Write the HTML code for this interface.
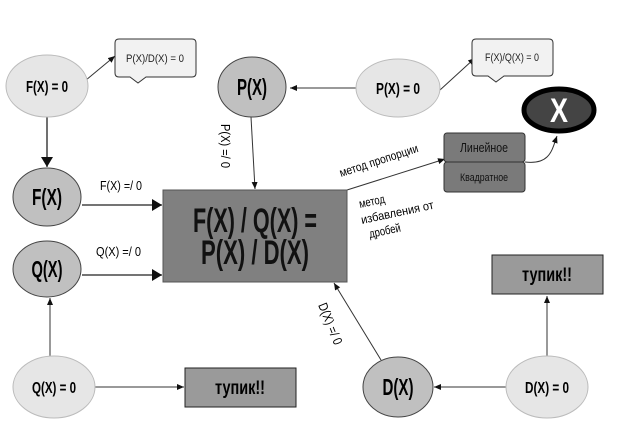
<!DOCTYPE html>
<html><head><meta charset="utf-8"><style>
html,body{margin:0;padding:0;background:#fff;}
svg{display:block;}
text{font-family:"Liberation Sans","DejaVu Sans",sans-serif;}
</style></head><body>
<svg width="640" height="437" viewBox="0 0 640 437" xmlns="http://www.w3.org/2000/svg">
<defs>
<marker id="a" markerWidth="8" markerHeight="8" refX="7" refY="4" orient="auto" markerUnits="userSpaceOnUse"><path d="M0,1 L7,4 L0,7 z" fill="#111"/></marker>
<marker id="b" markerWidth="12" markerHeight="12" refX="10" refY="6" orient="auto" markerUnits="userSpaceOnUse"><path d="M0,0 L10,6 L0,12 z" fill="#111"/></marker>
</defs>
<rect width="640" height="437" fill="#fff"/>

<line x1="47" y1="117" x2="47" y2="167" stroke="#222" stroke-width="1.3" marker-end="url(#b)"/>
<line x1="82" y1="205" x2="162" y2="205" stroke="#222" stroke-width="1.3" marker-end="url(#b)"/>
<line x1="82" y1="275" x2="162" y2="275" stroke="#222" stroke-width="1.3" marker-end="url(#b)"/>
<line x1="50" y1="356" x2="50" y2="298" stroke="#333" stroke-width="1" marker-end="url(#a)"/>
<line x1="95" y1="387" x2="184" y2="387" stroke="#333" stroke-width="1" marker-end="url(#a)"/>
<line x1="251" y1="117" x2="255" y2="189" stroke="#333" stroke-width="1" marker-end="url(#a)"/>
<line x1="356" y1="88" x2="290" y2="88" stroke="#333" stroke-width="1" marker-end="url(#a)"/>
<line x1="440" y1="90" x2="475" y2="58" stroke="#333" stroke-width="1" marker-end="url(#a)"/>
<line x1="74" y1="90" x2="115" y2="56" stroke="#333" stroke-width="1" marker-end="url(#a)"/>
<line x1="506" y1="387" x2="434" y2="387" stroke="#333" stroke-width="1" marker-end="url(#a)"/>
<line x1="547" y1="356" x2="547" y2="296" stroke="#333" stroke-width="1" marker-end="url(#a)"/>
<line x1="381" y1="360" x2="334" y2="283" stroke="#333" stroke-width="1" marker-end="url(#a)"/>
<line x1="347" y1="190" x2="445" y2="159" stroke="#333" stroke-width="1" marker-end="url(#a)"/>
<path d="M525,162 C550,165 552,150 557,136" fill="none" stroke="#333" stroke-width="1" marker-end="url(#a)"/>

<path d="M119,39 H192 Q196,39 196,43 V73 Q196,77 192,77 H146 L138,83 L130,77 H119 Q115,77 115,73 V43 Q115,39 119,39 Z" fill="#f2f2f2" stroke="#333" stroke-width="1"/>
<text x="155" y="62" font-size="11" text-anchor="middle" textLength="58" lengthAdjust="spacingAndGlyphs" fill="#222">P(X)/D(X) = 0</text>
<path d="M476,39 H549 Q553,39 553,43 V72 Q553,76 549,76 H504 L496,82 L488,76 H476 Q472,76 472,72 V43 Q472,39 476,39 Z" fill="#f2f2f2" stroke="#333" stroke-width="1"/>
<text x="512" y="61" font-size="11" text-anchor="middle" textLength="54" lengthAdjust="spacingAndGlyphs" fill="#222">F(X)/Q(X) = 0</text>

<ellipse cx="47" cy="86" rx="41" ry="31" fill="#e6e6e6" stroke="#bbb"/>
<text x="47" y="92" font-size="16" font-weight="bold" text-anchor="middle" textLength="42" lengthAdjust="spacingAndGlyphs">F(X) = 0</text>
<ellipse cx="252" cy="87" rx="34" ry="30" fill="#c0c0c0" stroke="#444"/>
<text x="252" y="95" font-size="23" font-weight="bold" text-anchor="middle" textLength="30" lengthAdjust="spacingAndGlyphs">P(X)</text>
<ellipse cx="398" cy="88" rx="42" ry="29" fill="#e6e6e6" stroke="#bbb"/>
<text x="398" y="94" font-size="16" font-weight="bold" text-anchor="middle" textLength="44" lengthAdjust="spacingAndGlyphs">P(X) = 0</text>
<ellipse cx="47" cy="197" rx="34" ry="29" fill="#c0c0c0" stroke="#444"/>
<text x="47" y="205" font-size="23" font-weight="bold" text-anchor="middle" textLength="30" lengthAdjust="spacingAndGlyphs">F(X)</text>
<ellipse cx="47" cy="269" rx="34" ry="28" fill="#c0c0c0" stroke="#444"/>
<text x="47" y="277" font-size="23" font-weight="bold" text-anchor="middle" textLength="31" lengthAdjust="spacingAndGlyphs">Q(X)</text>
<ellipse cx="54" cy="387" rx="41" ry="31" fill="#e6e6e6" stroke="#bbb"/>
<text x="54" y="393" font-size="16" font-weight="bold" text-anchor="middle" textLength="44" lengthAdjust="spacingAndGlyphs">Q(X) = 0</text>
<ellipse cx="398" cy="387" rx="35" ry="30" fill="#c0c0c0" stroke="#444"/>
<text x="398" y="395" font-size="23" font-weight="bold" text-anchor="middle" textLength="31" lengthAdjust="spacingAndGlyphs">D(X)</text>
<ellipse cx="547" cy="387" rx="41" ry="31" fill="#e6e6e6" stroke="#bbb"/>
<text x="547" y="393" font-size="16" font-weight="bold" text-anchor="middle" textLength="44" lengthAdjust="spacingAndGlyphs">D(X) = 0</text>
<ellipse cx="559" cy="110" rx="35" ry="21" fill="#444" stroke="#000" stroke-width="5"/>
<text x="559" y="122" font-size="34" font-weight="bold" text-anchor="middle" fill="#fff" textLength="18" lengthAdjust="spacingAndGlyphs">X</text>

<rect x="163" y="190" width="184" height="92" fill="#808080" stroke="#555"/>
<text x="255" y="232" font-size="34" font-weight="bold" text-anchor="middle" fill="#111" textLength="124" lengthAdjust="spacingAndGlyphs">F(X) / Q(X) =</text>
<text x="255" y="264" font-size="34" font-weight="bold" text-anchor="middle" fill="#111" textLength="108" lengthAdjust="spacingAndGlyphs">P(X) / D(X)</text>

<rect x="185" y="368" width="111" height="39" fill="#9a9a9a" stroke="#222"/>
<text x="240" y="394" font-size="19" font-weight="bold" text-anchor="middle" textLength="50" lengthAdjust="spacingAndGlyphs">тупик!!</text>
<rect x="492" y="255" width="111" height="39" fill="#9a9a9a" stroke="#222"/>
<text x="547" y="281" font-size="19" font-weight="bold" text-anchor="middle" textLength="50" lengthAdjust="spacingAndGlyphs">тупик!!</text>

<rect x="444" y="133" width="81" height="29" rx="3" fill="#7a7a7a" stroke="#333"/>
<text x="484" y="152" font-size="13" text-anchor="middle" fill="#111" textLength="48" lengthAdjust="spacingAndGlyphs">Линейное</text>
<rect x="444" y="162" width="81" height="30" rx="3" fill="#7a7a7a" stroke="#333"/>
<text x="484" y="181" font-size="11" text-anchor="middle" fill="#111" textLength="48" lengthAdjust="spacingAndGlyphs">Квадратное</text>

<text x="100" y="190" font-size="13" textLength="42" lengthAdjust="spacingAndGlyphs">F(X) =/ 0</text>
<text x="96" y="256" font-size="13" textLength="45" lengthAdjust="spacingAndGlyphs">Q(X) =/ 0</text>
<text transform="translate(221,124) rotate(90)" font-size="13" textLength="44" lengthAdjust="spacingAndGlyphs">P(X) =/ 0</text>
<text transform="translate(318,305) rotate(68)" font-size="13" textLength="44" lengthAdjust="spacingAndGlyphs">D(X) =/ 0</text>
<text transform="translate(341,177) rotate(-18)" font-size="12" textLength="82" lengthAdjust="spacingAndGlyphs">метод пропорции</text>
<text transform="translate(360,208) rotate(-12)" font-size="12" textLength="26" lengthAdjust="spacingAndGlyphs">метод</text>
<text transform="translate(362,224) rotate(-12)" font-size="12" textLength="74" lengthAdjust="spacingAndGlyphs">избавления от</text>
<text transform="translate(370,238) rotate(-12)" font-size="12" textLength="32" lengthAdjust="spacingAndGlyphs">дробей</text>
</svg>
</body></html>
